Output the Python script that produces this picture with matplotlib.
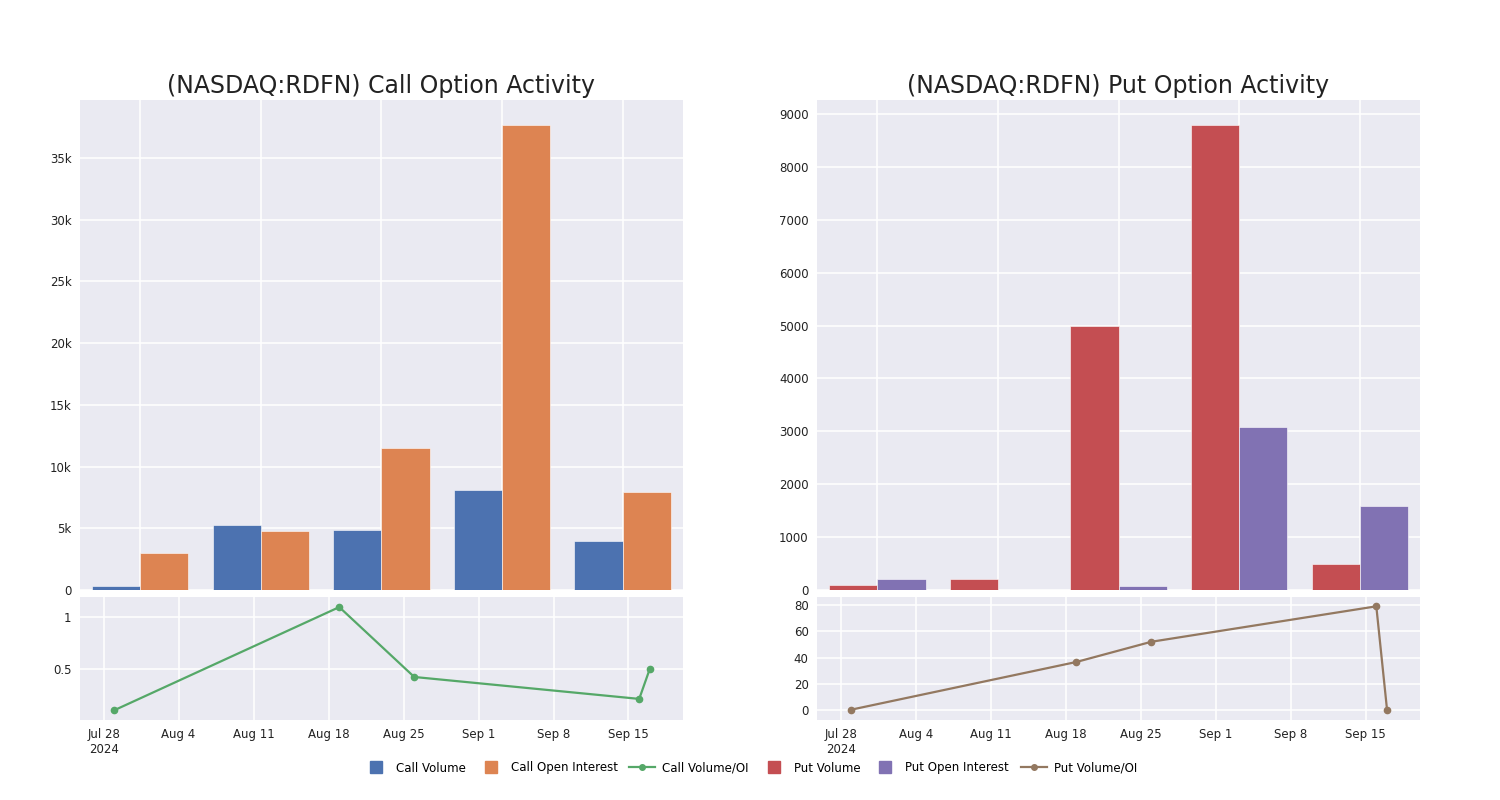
import matplotlib
matplotlib.use("Agg")
import matplotlib.pyplot as plt
import matplotlib.dates as mdates
from matplotlib.lines import Line2D
from matplotlib.ticker import FuncFormatter, MultipleLocator
import numpy as np
import pandas as pd

plt.rcParams['font.family'] = ['DejaVu Sans']

# bar data (5 groups)
call_volume = [300, 5250, 4850, 8100, 3950]
call_oi = [3000, 4800, 11500, 37700, 7900]
put_volume = [90, 200, 5000, 8800, 500]
put_oi = [210, 6, 80, 3080, 1590]

# volume / OI line data
ratio_dates = pd.to_datetime(['2024-07-29', '2024-08-19', '2024-08-26', '2024-09-16', '2024-09-17'])
call_ratio = [0.095, 1.097, 0.418, 0.205, 0.5]
put_ratio = [0.3, 36.6, 52.0, 79.0, 0.3]

tick_dates = pd.date_range('2024-07-28', periods=8, freq='7D')
tick_labels = ['Jul 28\n2024', 'Aug 4', 'Aug 11', 'Aug 18', 'Aug 25', 'Sep 1', 'Sep 8', 'Sep 15']

BG = '#EAEAF2'
c_blue, c_orange, c_green = '#4C72B0', '#DD8452', '#55A868'
c_red, c_purple, c_brown = '#C44E52', '#8172B3', '#937860'

fig = plt.figure(figsize=(15, 8), dpi=100)

def style(ax):
    ax.set_facecolor(BG)
    for s in ax.spines.values():
        s.set_visible(False)
    ax.grid(True, color='white', linewidth=1.1)
    ax.set_axisbelow(True)
    ax.tick_params(length=0, labelsize=8.5, colors='#222222', pad=6)


def panel(x0, title, vol, oi, c1, c2, ratio, c3, yfmt, ystep, ytop, rlim, rticks, rlabels):
    top = fig.add_axes([x0, 0.2625, 0.402, 0.6125])
    style(top)
    x = np.arange(len(vol))
    top.bar(x - 0.2, vol, width=0.4, color=c1, edgecolor='white', linewidth=0.4)
    top.bar(x + 0.2, oi, width=0.4, color=c2, edgecolor='white', linewidth=0.4)
    top.set_xlim(-0.5, 4.5)
    top.set_xticks(x)
    top.set_xticklabels([])
    top.set_ylim(0, ytop)
    top.yaxis.set_major_locator(MultipleLocator(ystep))
    top.yaxis.set_major_formatter(FuncFormatter(yfmt))
    top.set_title(title, fontsize=17, color='#222222', pad=5)

    bot = fig.add_axes([x0, 0.1, 0.402, 0.15375])
    style(bot)
    bot.plot(ratio_dates, ratio, color=c3, linewidth=1.6, marker='o', markersize=4.5)
    bot.set_xlim(mdates.date2num(pd.Timestamp('2024-07-25 19:00')),
                 mdates.date2num(pd.Timestamp('2024-09-20 02:00')))
    bot.set_xticks(tick_dates)
    bot.set_xticklabels(tick_labels)
    bot.set_ylim(*rlim)
    bot.set_yticks(rticks)
    bot.set_yticklabels(rlabels)
    return top, bot


def kfmt(v, p):
    return '0' if v == 0 else '%dk' % (v / 1000)


panel(0.0533, '(NASDAQ:RDFN) Call Option Activity', call_volume, call_oi, c_blue, c_orange,
      call_ratio, c_green, kfmt, 5000, 39700, (0.0, 1.195), [0.5, 1], ['0.5', '1'])
panel(0.5447, '(NASDAQ:RDFN) Put Option Activity', put_volume, put_oi, c_red, c_purple,
      put_ratio, c_brown, lambda v, p: '%d' % v, 1000, 9265, (-7.6, 86.1),
      [0, 20, 40, 60, 80], ['0', '20', '40', '60', '80'])

handles = [
    Line2D([], [], linestyle='none', marker='s', markersize=9, color=c_blue),
    Line2D([], [], linestyle='none', marker='s', markersize=9, color=c_orange),
    Line2D([], [], color=c_green, marker='o', markersize=4, linewidth=1.6),
    Line2D([], [], linestyle='none', marker='s', markersize=9, color=c_red),
    Line2D([], [], linestyle='none', marker='s', markersize=9, color=c_purple),
    Line2D([], [], color=c_brown, marker='o', markersize=4, linewidth=1.6),
]
labels = ['Call Volume', 'Call Open Interest', 'Call Volume/OI',
          'Put Volume', 'Put Open Interest', 'Put Volume/OI']
fig.legend(handles, labels, loc='center', bbox_to_anchor=(0.5, 0.04), ncol=6,
           frameon=False, fontsize=8.5, handlelength=2.2, columnspacing=1.0, handletextpad=0.6)

fig.savefig('out.png', dpi=100)
